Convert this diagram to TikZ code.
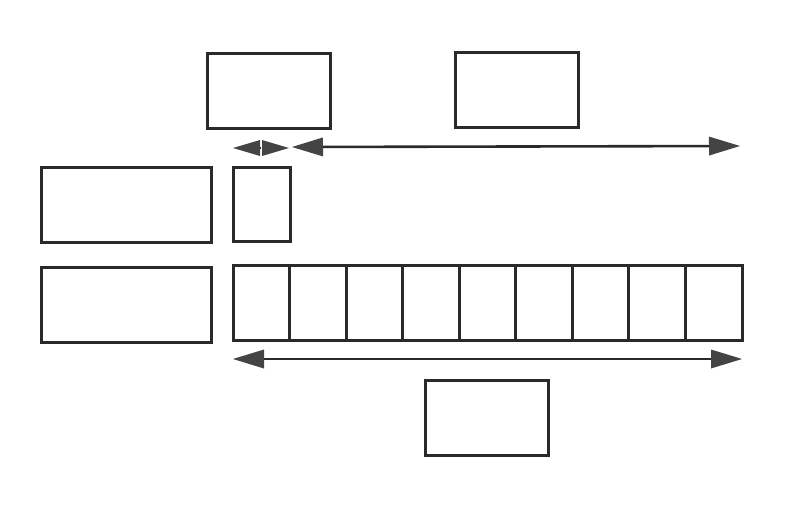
\documentclass[tikz,border=0pt]{standalone}
\usetikzlibrary{arrows.meta}
\definecolor{ink}{HTML}{2A2A2A}
\definecolor{headfill}{HTML}{444444}
\begin{document}
\begin{tikzpicture}[x=1pt,y=-1pt,
  conn/.style={draw=ink,line width=2.6pt,
    {Triangle[length=31pt,width=19pt,fill=headfill,line width=0pt]}-{Triangle[length=31pt,width=19pt,fill=headfill,line width=0pt]}},
  shortconn/.style={draw=ink,line width=2.6pt,
    {Triangle[length=27pt,width=16pt,fill=headfill,line width=0pt]}-{Triangle[length=27pt,width=16pt,fill=headfill,line width=0pt]}},
  frame/.style={draw=ink,line width=3pt,inner sep=0pt}
]
\fill[white] (0,0) rectangle (807,507);
\useasboundingbox (0,0) rectangle (807,507);
% boxes
\node[frame,minimum width=123pt,minimum height=75pt] (topA) at (268.5,90.5) {};
\node[frame,minimum width=123pt,minimum height=75pt] (topB) at (516.5,89.5) {};
\node[frame,minimum width=170pt,minimum height=75pt] (leftA) at (126,204.5) {};
\node[frame,minimum width=57pt,minimum height=74pt] (small) at (261.5,204) {};
\node[frame,minimum width=170pt,minimum height=75pt] (leftB) at (126,304.5) {};
\node[frame,minimum width=123pt,minimum height=75pt] (bottom) at (486.5,417.5) {};
% row of nine cells
\foreach \i in {1,...,9}{
  \node[frame,minimum width=56.56pt,minimum height=75pt]
    (cell\i) at ({233+(\i-0.5)*56.56},302.5) {};
}
% arrow end points
\coordinate (sa1) at (233,148);
\coordinate (sa2) at (289,148);
\coordinate (la1) at (292,147);
\coordinate (la2) at (740,146);
\coordinate (ba1) at (233,359);
\coordinate (ba2) at (742,359);
\draw[shortconn] (sa1) -- (sa2);
\draw[white,line width=1.5pt] (261.5,139) -- (261.5,157);
\draw[conn] (la1) -- (la2);
\draw[conn] (ba1) -- (ba2);
\end{tikzpicture}
\end{document}
